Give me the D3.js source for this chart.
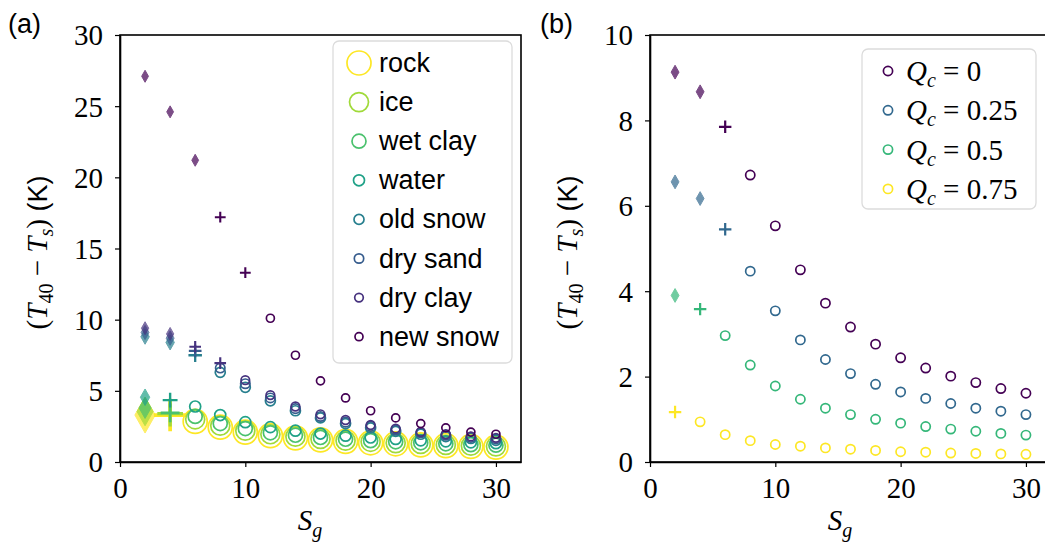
<!DOCTYPE html>
<html>
<head>
<meta charset="utf-8">
<script src="https://cdn.jsdelivr.net/npm/d3@7"></script>
<style>
  body { margin: 0; background: #fff; }
  svg { display: block; }
</style>
</head>
<body>
<svg id="chart" width="1045" height="546"></svg>
<script>
// Grid-size values shared by both panels
const sgValues = [2, 4, 6, 8, 10, 12, 14, 16, 18, 20, 22, 24, 26, 28, 30];

// Panel (a): surface materials
const materials = ["rock", "ice", "wet clay", "water", "old snow", "dry sand", "dry clay", "new snow"];
const rockVals     = [3.30, 3.30, 2.85, 2.45, 2.10, 1.85, 1.70, 1.55, 1.45, 1.35, 1.28, 1.20, 1.15, 1.10, 1.05];
const iceVals      = [3.55, 3.40, 3.00, 2.55, 2.20, 1.95, 1.78, 1.62, 1.50, 1.42, 1.33, 1.27, 1.20, 1.15, 1.10];
const wetClayVals  = [3.80, 3.45, 3.20, 2.70, 2.35, 2.05, 1.88, 1.72, 1.60, 1.50, 1.42, 1.35, 1.28, 1.22, 1.18];
const waterVals    = [4.55, 4.35, 3.90, 3.30, 2.80, 2.45, 2.20, 2.00, 1.85, 1.72, 1.62, 1.52, 1.45, 1.38, 1.32];
const oldSnowVals  = [8.80, 8.40, 7.50, 6.30, 5.25, 4.30, 3.60, 3.10, 2.70, 2.40, 2.15, 1.95, 1.78, 1.65, 1.52];
const drySandVals  = [9.10, 8.70, 7.80, 6.60, 5.50, 4.50, 3.75, 3.20, 2.80, 2.50, 2.25, 2.05, 1.88, 1.73, 1.62];
const dryClayVals  = [9.40, 9.00, 8.10, 6.95, 5.75, 4.70, 3.90, 3.35, 2.95, 2.60, 2.35, 2.12, 1.95, 1.80, 1.70];
const newSnowVals  = [27.1, 24.6, 21.2, 17.2, 13.3, 10.1, 7.50, 5.70, 4.50, 3.60, 3.10, 2.70, 2.40, 2.10, 1.95];
// marker per point: d = diamond, p = plus, o = circle
const rockMarks    = "dpooooooooooooo";
const iceMarks     = "dpooooooooooooo";
const wetClayMarks = "dpooooooooooooo";
const waterMarks   = "dpooooooooooooo";
const oldSnowMarks = "ddpoooooooooooo";
const drySandMarks = "ddpoooooooooooo";
const dryClayMarks = "ddppooooooooooo";
const newSnowMarks = "dddppoooooooooo";
const materialColors = ["#fde725", "#a0da39", "#4ac16d", "#1fa187", "#277f8e", "#365c8d", "#46327e", "#440154"];
const materialRadius = [12, 9.5, 7, 5.5, 5, 4.7, 4.3, 4];

// Panel (b): cloud cover fraction
const qLabels = ["0", "0.25", "0.5", "0.75"];
const q0Vals   = [9.13, 8.67, 7.85, 6.72, 5.53, 4.50, 3.72, 3.16, 2.76, 2.44, 2.20, 2.01, 1.86, 1.72, 1.61];
const q25Vals  = [6.56, 6.17, 5.45, 4.47, 3.54, 2.86, 2.40, 2.07, 1.82, 1.64, 1.49, 1.37, 1.26, 1.19, 1.11];
const q50Vals  = [3.90, 3.58, 2.96, 2.27, 1.78, 1.47, 1.26, 1.11, 1.00, 0.91, 0.83, 0.77, 0.72, 0.67, 0.63];
const q75Vals  = [1.17, 0.94, 0.64, 0.50, 0.41, 0.37, 0.33, 0.30, 0.27, 0.24, 0.23, 0.21, 0.20, 0.19, 0.18];
const q0Marks  = "ddpoooooooooooo";
const q25Marks = "ddpoooooooooooo";
const q50Marks = "dpooooooooooooo";
const q75Marks = "poooooooooooooo";
const qColors = ["#440154", "#31688e", "#35b779", "#fde725"];

const xTicks = [0, 10, 20, 30];
const yTicksA = [0, 5, 10, 15, 20, 25, 30];
const yTicksB = [0, 2, 4, 6, 8, 10];

const serif = "'Liberation Serif', 'Times New Roman', serif";
const sans = "'Liberation Sans', Arial, sans-serif";

const svg = d3.select("#chart");

const panels = [
  {
    left: 120, top: 35, width: 401, height: 427,
    yMax: 30, yTicks: yTicksA, tag: "(a)", tagX: 8,
    series: materials.map((name, i) => ({
      name,
      color: materialColors[i],
      r: materialRadius[i],
      values: [rockVals, iceVals, wetClayVals, waterVals, oldSnowVals, drySandVals, dryClayVals, newSnowVals][i],
      marks: [rockMarks, iceMarks, wetClayMarks, waterMarks, oldSnowMarks, drySandMarks, dryClayMarks, newSnowMarks][i]
    })),
    legend: { x: 333, y: 41, w: 179, h: 322, markX: 26, textX: 46, row0: 22, step: 39.1, math: false }
  },
  {
    left: 650, top: 35, width: 401, height: 427,
    yMax: 10, yTicks: yTicksB, tag: "(b)", tagX: 540,
    series: qLabels.map((q, i) => ({
      name: q,
      color: qColors[i],
      r: 4.6,
      values: [q0Vals, q25Vals, q50Vals, q75Vals][i],
      marks: [q0Marks, q25Marks, q50Marks, q75Marks][i]
    })),
    legend: { x: 862, y: 49, w: 174, h: 160, markX: 26, textX: 44, row0: 22, step: 39.3, math: true }
  }
];

function diamondPath(r) {
  const hh = r * 1.5, hw = r * 0.85;
  return `M0,${-hh}L${hw},0L0,${hh}L${-hw},0Z`;
}
function plusPath(r) {
  const h = r * 1.35;
  return `M${-h},0H${h}M0,${-h}V${h}`;
}

panels.forEach(p => {
  const x = d3.scaleLinear().domain([0, 32]).range([p.left, p.left + p.width]);
  const y = d3.scaleLinear().domain([0, p.yMax]).range([p.top + p.height, p.top]);

  const g = svg.append("g");

  // data markers, drawn in series order
  p.series.forEach(s => {
    const pts = sgValues.map((sv, i) => ({ sv, v: s.values[i], m: s.marks[i] }));
    const sg = g.append("g");
    pts.forEach(d => {
      const cx = x(d.sv), cy = y(d.v);
      if (d.m === "o") {
        sg.append("circle").attr("cx", cx).attr("cy", cy).attr("r", s.r)
          .attr("fill", "none").attr("stroke", s.color).attr("stroke-width", 1.7);
      } else if (d.m === "d") {
        sg.append("path").attr("d", diamondPath(s.r))
          .attr("transform", `translate(${cx},${cy})`)
          .attr("fill", s.color).attr("stroke", s.color).attr("stroke-width", 1)
          .attr("opacity", 0.7);
      } else {
        sg.append("path").attr("d", plusPath(s.r))
          .attr("transform", `translate(${cx},${cy})`)
          .attr("fill", "none").attr("stroke", s.color)
          .attr("stroke-width", 1.3 + s.r * 0.2);
      }
    });
  });

  // frame
  g.append("rect").attr("x", p.left).attr("y", p.top)
    .attr("width", p.width).attr("height", p.height)
    .attr("fill", "none").attr("stroke", "#000").attr("stroke-width", 1.6);

  // axes
  const xAxis = g.append("g").attr("transform", `translate(0,${p.top + p.height})`)
    .call(d3.axisBottom(x).tickValues(xTicks).tickSize(5).tickSizeOuter(0).tickPadding(10).tickFormat(d3.format("d")));
  const yAxis = g.append("g").attr("transform", `translate(${p.left},0)`)
    .call(d3.axisLeft(y).tickValues(p.yTicks).tickSize(5).tickSizeOuter(0).tickPadding(12).tickFormat(d3.format("d")));
  [xAxis, yAxis].forEach(a => {
    a.select(".domain").attr("stroke", "#000").attr("stroke-width", 1.6);
    a.selectAll(".tick line").attr("stroke", "#000").attr("stroke-width", 1.2);
    a.selectAll(".tick text").attr("fill", "#000")
      .style("font-family", serif).style("font-size", "29px");
  });
  yAxis.selectAll(".tick text").attr("dy", "0.34em");

  // x label: S_g
  const xl = svg.append("text").attr("x", p.left + 190).attr("y", 530)
    .attr("text-anchor", "middle").style("font-family", serif).style("font-size", "29px");
  xl.append("tspan").attr("font-style", "italic").text("S");
  xl.append("tspan").attr("font-style", "italic").attr("font-size", "20px").attr("dy", 7).text("g");

  // y label: (T40 − Ts) (K)
  const cx = p.left - 73, cy = p.top + p.height / 2 + 4;
  const yl = svg.append("text").attr("transform", `translate(${cx},${cy}) rotate(-90)`)
    .attr("text-anchor", "middle").style("font-family", serif).style("font-size", "29px");
  yl.append("tspan").text("(");
  yl.append("tspan").attr("font-style", "italic").text("T");
  yl.append("tspan").attr("font-size", "20px").attr("dy", 6).text("40");
  yl.append("tspan").attr("dy", -6).text(" \u2212 ");
  yl.append("tspan").attr("font-style", "italic").text("T");
  yl.append("tspan").attr("font-style", "italic").attr("font-size", "20px").attr("dy", 6).text("s");
  yl.append("tspan").attr("dy", -6).text(")");
  yl.append("tspan").style("font-family", sans).attr("font-size", "27px").text(" (K)");

  // panel tag
  svg.append("text").attr("x", p.tagX).attr("y", 33)
    .style("font-family", sans).style("font-size", "27px").text(p.tag);

  // legend
  const L = p.legend;
  const lg = svg.append("g").attr("transform", `translate(${L.x},${L.y})`);
  lg.append("rect").attr("width", L.w).attr("height", L.h).attr("rx", 6)
    .attr("fill", "#fff").attr("fill-opacity", 0.85)
    .attr("stroke", "#dcdcdc").attr("stroke-width", 1.3);
  p.series.forEach((s, i) => {
    const ry = L.row0 + i * L.step;
    lg.append("circle").attr("cx", L.markX).attr("cy", ry).attr("r", s.r)
      .attr("fill", "none").attr("stroke", s.color).attr("stroke-width", 1.7);
    if (L.math) {
      const t = lg.append("text").attr("x", L.textX).attr("y", ry + 10)
        .style("font-family", serif).style("font-size", "29px");
      t.append("tspan").attr("font-style", "italic").text("Q");
      t.append("tspan").attr("font-style", "italic").attr("font-size", "20px").attr("dy", 6).text("c");
      t.append("tspan").attr("dy", -6).text(" = " + s.name);
    } else {
      lg.append("text").attr("x", L.textX).attr("y", ry + 9)
        .style("font-family", sans).style("font-size", "27px").text(s.name);
    }
  });
});
</script>
</body>
</html>
